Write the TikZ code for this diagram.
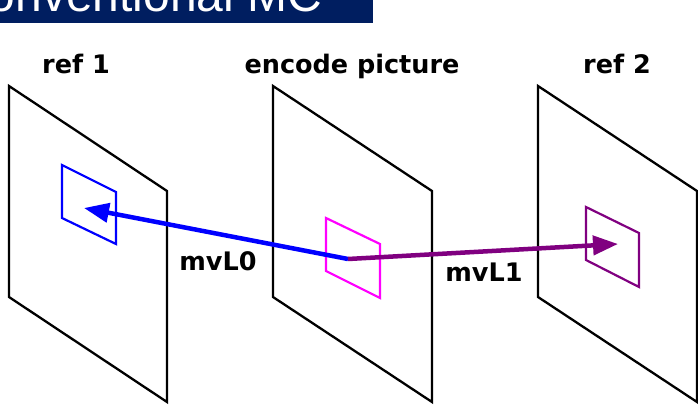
\documentclass[tikz,border=0pt]{standalone}
\usepackage{fontspec}
\setmainfont{DejaVu Sans}
\newfontfamily\bannerfont{Liberation Sans}
\usetikzlibrary{arrows.meta}
\definecolor{navy}{RGB}{0,30,96}
\definecolor{mvpurple}{RGB}{128,0,128}
\definecolor{curpink}{RGB}{255,0,255}
\definecolor{refblue}{RGB}{0,0,255}
\tikzset{
  plane/.style={draw=black, line width=2.3pt, line join=miter},
  block/.style={line width=2.2pt},
  title/.style={font=\bfseries\fontsize{25.5}{30}\selectfont, anchor=base, inner sep=0pt},
  mvlabel/.style={font=\bfseries\fontsize{25.5}{30}\selectfont, anchor=base, inner sep=0pt},
  mvarrow/.style={line width=4.5pt, -{Triangle[length=25pt,width=19pt]}},
}
\begin{document}
\begin{tikzpicture}[x=1pt,y=-1pt]
\useasboundingbox (0,0) rectangle (698,404);
\clip (0,0) rectangle (698,404);

% slide title bar
\fill[navy] (-60,-40) rectangle (373,23);
\node[anchor=base west, inner sep=0pt, text=white, font=\bannerfont\fontsize{48}{56}\selectfont] (banner) at (-46,11.5) {Conventional MC};

% the three pictures, drawn in perspective
\draw[plane] (9,86) -- (167,191) -- (167,402) -- (9,297) -- cycle;
\draw[plane] (273,86) -- (432,191) -- (432,402) -- (273,297) -- cycle;
\draw[plane] (538,86) -- (697,191) -- (697,402) -- (538,297) -- cycle;

\node[title] (t1) at (76,74) {ref 1};
\node[title] (t2) at (352,74) {encode picture};
\node[title] (t3) at (617,74) {ref 2};

% current block and its two reference blocks
\draw[block, refblue] (62,165) -- (116,192) -- (116,244) -- (62,218) -- cycle;
\draw[block, curpink] (326,218) -- (380,244) -- (380,298) -- (326,271) -- cycle;
\draw[block, mvpurple] (586,207) -- (639,233) -- (639,287) -- (586,260) -- cycle;

% motion vectors
\coordinate (cur) at (348,259);
\coordinate (ref0) at (84,208);
\coordinate (ref1) at (618,244);
\draw[mvarrow, refblue] (cur) -- (ref0);
\draw[mvarrow, mvpurple] (cur) -- (ref1);

\node[mvlabel] (l0) at (218,270) {mvL0};
\node[mvlabel] (l1) at (484,281) {mvL1};
\end{tikzpicture}
\end{document}
